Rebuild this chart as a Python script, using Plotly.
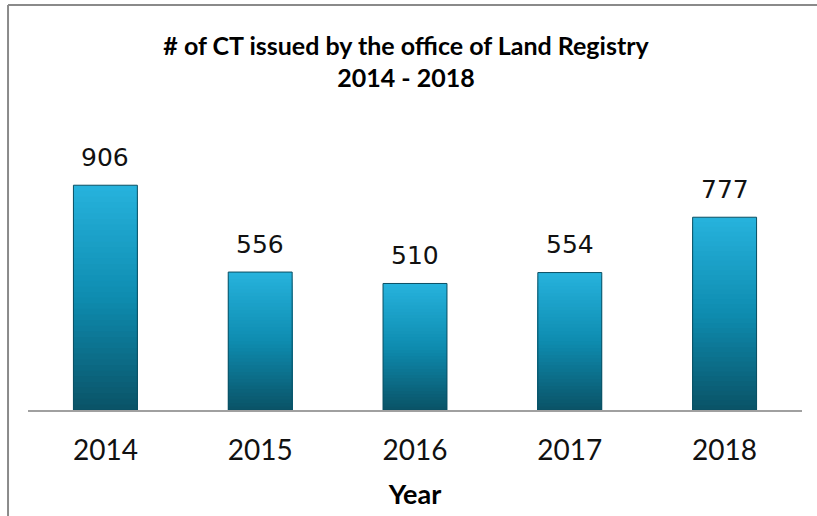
import plotly.graph_objects as go

years = ["2014", "2015", "2016", "2017", "2018"]
counts = [906, 556, 510, 554, 777]
title_line1 = "# of CT issued by the office of Land Registry"
title_line2 = "2014 - 2018"
x_title = "Year"

TOP = (38, 178, 220)
MID = (14, 140, 176)
BOT = (10, 84, 104)

def lerp(a, b, t):
    return tuple(int(round(a[i] + (b[i] - a[i]) * t)) for i in range(3))

def grad(t):
    if t < 0.5:
        c = lerp(TOP, MID, t / 0.5)
    else:
        c = lerp(MID, BOT, (t - 0.5) / 0.5)
    return "rgb(%d,%d,%d)" % c

fig = go.Figure()
N = 40
for k in range(N):
    f = 1 - k / N
    fig.add_trace(go.Bar(
        x=years, y=[v * f for v in counts],
        marker=dict(color=grad(k / (N - 1)), line=dict(width=0)),
        hoverinfo="skip", showlegend=False,
    ))
fig.add_trace(go.Bar(
    x=years, y=counts,
    marker=dict(color="rgba(0,0,0,0)", line=dict(color="#0b4f63", width=1)),
    showlegend=False,
))

NARROW = "Lato, Roboto, sans-serif"

fig.update_layout(
    width=817, height=516,
    barmode="overlay", bargap=0.587,
    margin=dict(l=28, r=15, t=150, b=106, autoexpand=False),
    paper_bgcolor="white", plot_bgcolor="white",
    title=dict(
        text="<b>%s</b><br><b>%s</b>" % (title_line1, title_line2),
        x=0.497, xanchor="center", y=0.8935, yanchor="middle", yref="container",
        font=dict(family=NARROW, size=25, color="#000"),
    ),
    xaxis=dict(
        type="category", automargin=False, range=[-0.5, len(years) - 0.5],
        showline=True, linecolor="#a0a0a0", linewidth=2, ticks="",
        showgrid=False, ticklabelstandoff=14,
        tickfont=dict(family=NARROW, size=28, color="#111"),
        title=dict(text="<b>%s</b>" % x_title, standoff=21,
                   font=dict(family=NARROW, size=27, color="#000")),
    ),
    yaxis=dict(visible=False, range=[0, 1048], automargin=False),
    shapes=[
        dict(type="line", xref="paper", yref="paper", x0=-0.0258, x1=1.05, y0=1.558, y1=1.558,
             line=dict(color="#8a8a8a", width=2)),
        dict(type="line", xref="paper", yref="paper", x0=-0.0258, x1=-0.0258, y0=1.558, y1=-0.5,
             line=dict(color="#8a8a8a", width=2)),
    ],
)
for i, v in enumerate(counts):
    fig.add_annotation(x=i, y=v, text=str(v), showarrow=False, yshift=28,
                       yanchor="middle",
                       font=dict(family="DejaVu Sans", size=25, color="#111"))

fig.write_html("out.html", config={"displayModeBar": False},
               post_script="document.body.style.margin='0';")
